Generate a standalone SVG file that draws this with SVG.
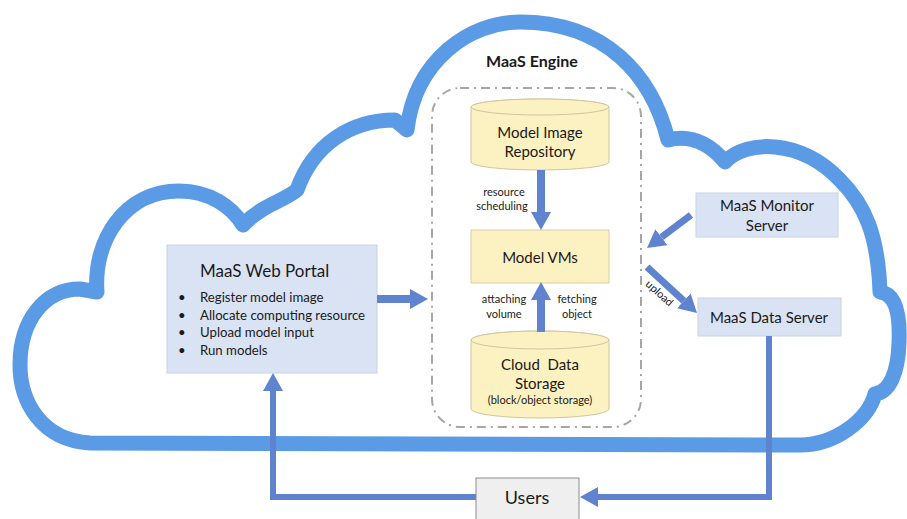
<svg xmlns="http://www.w3.org/2000/svg" width="907" height="519" viewBox="0 0 907 519">
<defs>
<style>
text{font-family:Lato,"Open Sans","Liberation Sans",sans-serif;fill:#1a1a1a}
.box{fill:#dae3f3;stroke:#c9d3e3;stroke-width:1}
.cyl{fill:#fcf1c0;stroke:#cfc6a0;stroke-width:1}
.lbl{font-size:11px;text-anchor:middle}
.mid{text-anchor:middle}
.conn{fill:none;stroke:#5f83cf}
</style>
<marker id="ah" markerUnits="userSpaceOnUse" markerWidth="18" markerHeight="20" refX="0" refY="10" orient="auto" viewBox="0 0 18 20">
<path d="M0,0 L18,10 L0,20 Z" fill="#5f83cf"/>
</marker>
</defs>
<rect width="907" height="519" fill="#ffffff"/>
<g id="cloud">
<path d="M97,292 C93,240 125,191 179,191 C210,191 232,207 243,225 C262,205 282,202 297,190 C313,145 350,120 395,120 L407,130 C415,60 470,22 520,22 C605,22 652,75 668,140 Q700,132 725,162 C745,140 800,138 840,180 C865,205 878,235 880,292 C898,294 900,320 899,343 C898,372 890,392 875,394 C868,420 835,445 800,445 L90,443 C40,440 20,400 20,365 C20,320 45,289 80,289 Z" fill="#ffffff" stroke="#5b9be5" stroke-width="15" stroke-linejoin="round"/>
</g>
<g id="engine">
<rect x="432" y="88" width="209" height="339" rx="28" fill="none" stroke="#a6a6a6" stroke-width="2" stroke-dasharray="9 5 2 5"/>
<text x="532" y="67" class="mid" font-size="16" font-weight="bold">MaaS Engine</text>
</g>
<g id="repo">
<path class="cyl" d="M471,107 L471,162 A69,8 0 0 0 609,162 L609,107 A69,8 0 0 0 471,107 Z"/>
<ellipse class="cyl" cx="540" cy="107" rx="69" ry="8"/>
<text x="540" y="138" class="mid" font-size="15">Model Image</text>
<text x="540" y="157" class="mid" font-size="15">Repository</text>
</g>
<g id="vms">
<rect x="471" y="230" width="138" height="53" fill="#fcf1c0" stroke="#d6cea6"/>
<text x="540" y="263" class="mid" font-size="15">Model VMs</text>
</g>
<g id="storage">
<path class="cyl" d="M471,340 L471,409 A69,9 0 0 0 609,409 L609,340 A69,9 0 0 0 471,340 Z"/>
<ellipse class="cyl" cx="540" cy="340" rx="69" ry="9"/>
<text x="540" y="370" class="mid" font-size="15" xml:space="preserve">Cloud  Data</text>
<text x="540" y="389" class="mid" font-size="15">Storage</text>
<text x="540" y="404" class="mid" font-size="11">(block/object storage)</text>
</g>
<g id="portal">
<rect class="box" x="167" y="245" width="210" height="128"/>
<text x="200" y="277" font-size="17">MaaS Web Portal</text>
<g font-size="13.2">
<text x="178" y="302">•</text><text x="200" y="302">Register model image</text>
<text x="178" y="320">•</text><text x="200" y="320">Allocate computing resource</text>
<text x="178" y="337">•</text><text x="200" y="337">Upload model input</text>
<text x="178" y="355">•</text><text x="200" y="355">Run models</text>
</g>
</g>
<g id="monitor">
<rect class="box" x="696" y="193" width="142" height="44"/>
<text x="767" y="211" class="mid" font-size="15">MaaS Monitor</text>
<text x="767" y="231" class="mid" font-size="15">Server</text>
</g>
<g id="dataserver">
<rect class="box" x="698" y="298" width="143" height="38"/>
<text x="769" y="323" class="mid" font-size="15">MaaS Data Server</text>
</g>
<g id="users">
<rect x="476" y="478" width="103" height="45" fill="#efefef" stroke="#8c8c8c" stroke-width="1"/>
<text x="527" y="504" class="mid" font-size="18">Users</text>
</g>
<g id="connectors">
<line class="conn" x1="541" y1="170" x2="541" y2="212" stroke-width="8" marker-end="url(#ah)"/>
<line class="conn" x1="541" y1="332" x2="541" y2="300" stroke-width="8" marker-end="url(#ah)"/>
<line class="conn" x1="377" y1="299" x2="410" y2="299" stroke-width="8" marker-end="url(#ah)"/>
<line class="conn" x1="691" y1="215" x2="661.4" y2="237.2" stroke-width="7" marker-end="url(#ah)"/>
<line class="conn" x1="647" y1="267" x2="683.8" y2="300.8" stroke-width="7" marker-end="url(#ah)"/>
<polyline class="conn" points="476,497 273,497 273,391" stroke-width="6" marker-end="url(#ah)"/>
<polyline class="conn" points="769,336 769,497 598,497" stroke-width="6" marker-end="url(#ah)"/>
<text x="504" y="196" class="lbl">resource</text>
<text x="502" y="210" class="lbl">scheduling</text>
<text x="504" y="303" class="lbl">attaching</text>
<text x="504" y="318" class="lbl">volume</text>
<text x="577" y="303" class="lbl">fetching</text>
<text x="577" y="318" class="lbl">object</text>
<text x="0" y="0" class="lbl" font-size="10" transform="translate(657,296) rotate(42)">upload</text>
</g>
</svg>
